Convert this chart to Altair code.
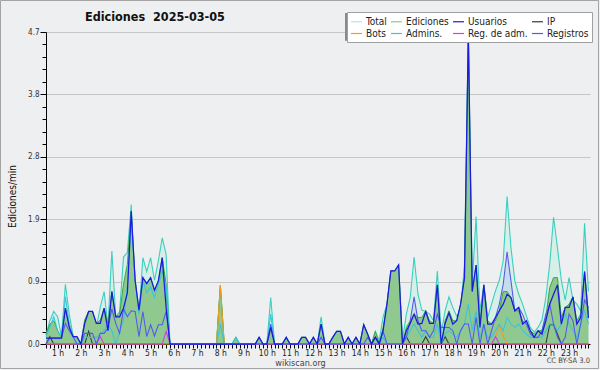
import altair as alt
import pandas as pd

FONT = "DejaVu Sans Condensed, Liberation Sans Narrow, DejaVu Sans"

# 10-minute slots, first slot at 0:30
START_H = 0.5
STEP_H = 1 / 6

total = [
    0.14, 0.35, 0.49, 0.41, 0.11, 0.90, 0.45, 0.12, 0.09, 0.00,
    0.36, 0.49, 0.49, 0.26, 0.55, 0.79, 0.26, 1.40, 0.41, 0.49,
    1.31, 1.38, 2.10, 0.60, 0.45, 1.30, 1.09, 1.30, 0.96, 1.25,
    1.60, 1.35, 0.00, 0, 0, 0, 0, 0, 0, 0,
    0, 0, 0, 0, 0, 0.88, 0, 0, 0, 0.10,
    0, 0, 0, 0, 0, 0.10, 0, 0, 0.70, 0,
    0, 0, 0.10, 0, 0, 0, 0.10, 0.10, 0, 0.10,
    0, 0.41, 0, 0, 0.10, 0.19, 0.19, 0, 0.10, 0,
    0.10, 0, 0.29, 0.15, 0, 0.19, 0.05, 0.41, 0.60, 1.10,
    1.10, 1.19, 0.05, 0.45, 0.70, 1.31, 0.75, 0.51, 0.49, 0.45,
    0.35, 1.10, 0.16, 0.50, 0.71, 0.55, 0.42, 0.50, 1.20, 4.70,
    0.90, 1.92, 0.50, 0.89, 0.40, 0.60, 0.80, 0.96, 1.25, 2.22,
    1.45, 0.95, 0.75, 0.60, 0.42, 0.25, 0.18, 0.25, 0.36, 0.70,
    1.20, 1.91, 1.45, 0.96, 0.66, 1.00, 0.66, 0.60, 0.50, 1.82,
    0.79,
]

ediciones = [
    0.14, 0.30, 0.35, 0.20, 0.10, 0.54, 0.30, 0.11, 0.11, 0.00,
    0.36, 0.49, 0.49, 0.31, 0.36, 0.54, 0.30, 0.79, 0.41, 0.45,
    0.90, 1.20, 2.00, 0.96, 0.50, 1.00, 0.91, 1.00, 0.81, 0.95,
    1.30, 0.90, 0.00, 0, 0, 0, 0, 0, 0, 0,
    0, 0, 0, 0, 0, 0.88, 0, 0, 0, 0.10,
    0, 0, 0, 0, 0, 0.10, 0, 0, 0.25, 0,
    0, 0, 0.10, 0, 0, 0, 0.10, 0.10, 0, 0.10,
    0, 0.30, 0, 0, 0.10, 0.19, 0.19, 0, 0.10, 0,
    0.10, 0, 0.29, 0.15, 0, 0.19, 0, 0.25, 0.60, 1.10,
    1.10, 1.19, 0.00, 0.25, 0.35, 0.45, 0.40, 0.40, 0.50, 0.35,
    0.31, 0.89, 0.00, 0.35, 0.50, 0.35, 0.35, 0.60, 1.00, 4.65,
    0.80, 1.19, 0.30, 0.89, 0.35, 0.30, 0.35, 0.50, 0.79, 0.79,
    0.70, 0.50, 0.50, 0.35, 0.30, 0.20, 0.15, 0.20, 0.20, 0.40,
    0.85, 1.00, 1.00, 0.40, 0.55, 0.60, 0.71, 0.35, 0.45, 1.09,
    0.45,
]

usuarios = [
    0.09, 0.09, 0.09, 0.09, 0.09, 0.54, 0.25, 0.11, 0.11, 0.00,
    0.31, 0.49, 0.49, 0.31, 0.31, 0.54, 0.20, 0.79, 0.41, 0.41,
    0.54, 0.77, 2.00, 0.96, 0.51, 1.00, 0.91, 1.00, 0.81, 0.95,
    1.30, 0.55, 0.00, 0, 0, 0, 0, 0, 0, 0,
    0, 0, 0, 0, 0, 0, 0, 0, 0, 0,
    0, 0, 0, 0, 0, 0.10, 0, 0, 0.25, 0,
    0, 0, 0.10, 0, 0, 0, 0.10, 0.10, 0, 0.10,
    0, 0.30, 0, 0, 0.10, 0.19, 0.19, 0, 0.10, 0,
    0.10, 0, 0.29, 0.15, 0, 0.10, 0, 0.20, 0.60, 1.10,
    1.10, 1.19, 0.00, 0.20, 0.31, 0.45, 0.30, 0.31, 0.49, 0.31,
    0.31, 0.89, 0.00, 0.31, 0.47, 0.30, 0.35, 0.60, 1.00, 4.70,
    0.79, 1.19, 0.25, 0.89, 0.30, 0.30, 0.40, 0.50, 0.60, 0.75,
    0.70, 0.50, 0.55, 0.30, 0.35, 0.20, 0.10, 0.20, 0.15, 0.35,
    0.60, 0.75, 0.89, 0.30, 0.55, 0.55, 0.71, 0.30, 0.40, 1.09,
    0.39,
]

registros = [
    0, 0.09, 0.09, 0.09, 0.09, 0.31, 0.20, 0.11, 0, 0,
    0.16, 0.16, 0.16, 0, 0.16, 0.16, 0.24, 0.53, 0.31, 0.16,
    0.53, 0.41, 0.50, 0.49, 0.11, 0.49, 0.11, 0.29, 0.12, 0.29,
    0.29, 0.49, 0, 0, 0, 0, 0, 0, 0, 0,
    0, 0, 0, 0, 0, 0, 0, 0, 0, 0,
    0, 0, 0, 0, 0, 0, 0, 0, 0.30, 0,
    0, 0, 0, 0, 0, 0, 0, 0, 0, 0,
    0, 0.10, 0, 0, 0, 0, 0, 0, 0, 0,
    0, 0, 0, 0.10, 0, 0, 0, 0.19, 0, 0,
    0, 0, 0.00, 0.10, 0.35, 0.71, 0.35, 0.20, 0.20, 0.10,
    0.20, 0.45, 0.25, 0.25, 0.25, 0.20, 0.00, 0.20, 0.30, 0.30,
    0.00, 0.40, 0.00, 0.30, 0.00, 0.20, 0.40, 0.60, 0.90, 1.39,
    0.95, 0.50, 0.55, 0.45, 0.30, 0.15, 0.10, 0.10, 0.20, 0.45,
    0.60, 0.30, 0.10, 0.00, 0.10, 0.45, 0.35, 0.00, 0.30, 0.66,
    0.55,
]

admins = [
    0.11, 0.25, 0.41, 0.20, 0.11, 0.71, 0.30, 0.11, 0, 0,
    0.10, 0.10, 0.10, 0.10, 0.15, 0.20, 0.30, 0.20, 0.00, 0.19,
    0.36, 0.86, 1.92, 0.96, 0.45, 0.96, 0.77, 0.86, 0.70, 0.90,
    1.10, 0.86, 0, 0, 0, 0, 0, 0, 0, 0,
    0, 0, 0, 0, 0, 0.30, 0, 0, 0, 0.10,
    0, 0, 0, 0, 0, 0, 0, 0, 0.45, 0,
    0, 0, 0, 0, 0, 0, 0, 0, 0, 0,
    0, 0.10, 0, 0, 0, 0, 0, 0, 0, 0,
    0, 0, 0, 0, 0, 0, 0, 0.10, 0, 0,
    0, 0, 0, 0.10, 0.20, 0.30, 0.20, 0.10, 0.20, 0.10,
    0.10, 0.30, 0.00, 0.15, 0.20, 0.15, 0.10, 0.20, 0.30, 0.60,
    0.20, 0.50, 0.10, 0.30, 0.10, 0.10, 0.20, 0.30, 0.20, 0.40,
    0.30, 0.25, 0.30, 0.20, 0.15, 0.10, 0.10, 0.10, 0.10, 0.20,
    0.30, 0.30, 0.20, 0.30, 0.45, 0.30, 0.20, 0.10, 0.30, 0.50,
    0.30,
]

# sparse series: slot index -> value (all other slots are 0)
ip_slots = {1: 0.11, 11: 0.19, 85: 0.10, 93: 0.11, 98: 0.11, 103: 0.11,
            130: 0.29, 131: 0.29, 132: 0.15}
bots_slots = {45: 0.88, 116: 0.10, 117: 0.29, 118: 0.12}
regadm_slots = {14: 0.11, 31: 0.19, 116: 0.11}

N = len(total)


def expand(slots):
    return [slots.get(i, 0.0) for i in range(N)]


times = [START_H + i * STEP_H for i in range(N)]

SERIES = ["Total", "Ediciones", "Usuarios", "IP",
          "Bots", "Admins.", "Reg. de adm.", "Registros"]
COLORS = ["#b4e6e6", "#86cf86", "#1a1ae0", "#383838",
          "#f59a23", "#38c4e0", "#d23fe0", "#5656f2"]

TITLE = "Ediciones\u00a0 2025-03-05"
LICENSE = "CC BY-SA 3.0"

wide = pd.DataFrame({
    "t": times,
    "Total": total,
    "Ediciones": ediciones,
    "Usuarios": usuarios,
    "IP": expand(ip_slots),
    "Bots": expand(bots_slots),
    "Admins.": admins,
    "Reg. de adm.": expand(regadm_slots),
    "Registros": registros,
})
long = wide.melt(id_vars="t", var_name="serie", value_name="v")

Y_STEP = 0.188
y_ticks = [round(k * Y_STEP, 3) for k in range(26)]
major_test = "abs(datum.value / 0.94 - round(datum.value / 0.94)) < 0.01"

x_axis = alt.Axis(
    values=times,
    labelExpr="abs(datum.value - round(datum.value)) < 0.01 && round(datum.value) >= 1 ? round(datum.value) + ' h' : ''",
    tickSize=4, tickColor="#000000", domainColor="#000000", grid=False,
    labelFont=FONT, labelFontSize=8.5, labelColor="#222222", labelPadding=0,
    labelOverlap=False, labelFlush=False,
    title="wikiscan.org", titleX=254, titleY=18, titleBaseline="middle",
    titleFont=FONT, titleFontSize=9, titleFontWeight="normal", titleColor="#444444",
)
y_axis = alt.Axis(
    values=y_ticks,
    labelExpr=major_test + " ? format(datum.value, '.1f') : ''",
    tickSize={"condition": {"test": major_test, "value": 6}, "value": 4},
    gridOpacity={"condition": {"test": major_test, "value": 1}, "value": 0},
    gridColor="#c6c6c6", tickColor="#000000", domainColor="#000000",
    labelFont=FONT, labelFontSize=8, labelColor="#333333", labelPadding=1,
    labelOverlap=False,
    title="Ediciones/min", titleX=-34, titleY=164, titleAngle=270,
    titleAlign="center", titleBaseline="middle",
    titleFont=FONT, titleFontSize=10, titleFontWeight="normal", titleColor="#111111",
)

x_enc = alt.X("t:Q", scale=alt.Scale(domain=[0.5, 23.9], nice=False, zero=False), axis=x_axis)
y_enc = alt.Y("v:Q", scale=alt.Scale(domain=[0, 4.7], nice=False), axis=y_axis)

color_enc = alt.Color(
    "serie:N",
    scale=alt.Scale(domain=SERIES, range=COLORS),
    title=None,
    legend=alt.Legend(
        orient="none", legendX=301, legendY=-20, direction="horizontal", columns=4,
        symbolType="stroke", symbolSize=120, symbolStrokeWidth=1.2,
        labelFont=FONT, labelFontSize=10, labelColor="#222222",
        padding=3, rowPadding=0, columnPadding=1, labelOffset=3,
        fillColor="#ffffff", strokeColor="#a0a0a0", cornerRadius=0,
    ),
)

base = alt.Chart(long)

total_area = base.transform_filter(alt.datum.serie == "Total").mark_area(
    fill="#d3eee6", fillOpacity=0.9,
    line=alt.OverlayMarkDef(color="#3ccfc0", strokeWidth=1.1),
).encode(x=x_enc, y=y_enc)

reg_area = base.transform_filter(alt.datum.serie == "Registros").mark_area(
    fill="#a8bdf2", fillOpacity=0.35,
).encode(x=x_enc, y=y_enc)

ed_area = base.transform_filter(alt.datum.serie == "Ediciones").mark_area(
    fill="#8fc98f", fillOpacity=1,
    line=alt.OverlayMarkDef(color="#3aa83a", strokeWidth=1),
).encode(x=x_enc, y=y_enc)

other_lines = base.transform_filter(
    alt.FieldOneOfPredicate(field="serie", oneOf=["Admins.", "Reg. de adm.", "Bots", "IP", "Registros"])
).mark_line(strokeWidth=1.05).encode(x=x_enc, y=y_enc, color=color_enc)

user_line = base.transform_filter(alt.datum.serie == "Usuarios").mark_line(
    strokeWidth=1.25
).encode(x=x_enc, y=y_enc, color=color_enc)

one = pd.DataFrame({"title": [TITLE], "lic": [LICENSE]})

legend_shadow = alt.Chart(one).mark_rect(fill="#8a8a8a").encode(
    x=alt.value(299), x2=alt.value(545.5), y=alt.value(-19), y2=alt.value(8.7)
)
frame = alt.Chart(one).mark_rect(fillOpacity=0, stroke="#a4a4a4", strokeWidth=1).encode(
    x=alt.value(-45.5), x2=alt.value(552.5), y=alt.value(-31.5), y2=alt.value(336.5)
)
license_text = alt.Chart(one).mark_text(
    font=FONT, fontSize=7.5, color="#444444", align="right", baseline="middle"
).encode(x=alt.value(544), y=alt.value(329), text="lic:N")
title_text = alt.Chart(one).mark_text(
    font=FONT, fontSize=12.5, fontWeight="bold", color="#111111",
    align="left", baseline="alphabetic"
).encode(x=alt.value(39), y=alt.value(-11.3), text="title:N")

chart = alt.layer(
    total_area, reg_area, ed_area, other_lines, user_line,
    legend_shadow, frame, license_text, title_text,
).properties(
    width=544, height=312,
    padding={"left": 46, "top": 32, "right": 10, "bottom": 26},
    autosize=alt.AutoSizeParams(type="none"),
    background="#eeeff0",
).configure_view(stroke="transparent")

chart.save("out.html", embed_options={"renderer": "svg", "actions": False})
